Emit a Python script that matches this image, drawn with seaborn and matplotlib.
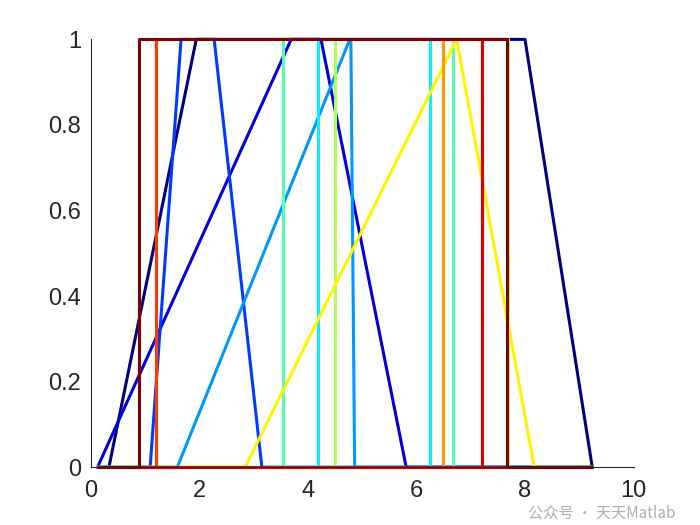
import numpy as np
import pandas as pd
import matplotlib
matplotlib.use("Agg")
import matplotlib.pyplot as plt
import seaborn as sns

# --- membership functions (trapezoid corners) ---
mf_names = [f"mf{i}" for i in range(1, 13)]
left_foot = [0.33, 0.12, 1.09, 1.59, 4.18, 3.53, 4.49, 2.84, 6.49, 1.19, 7.21, 0.89]
left_top = [1.94, 3.69, 1.66, 4.77, 4.18, 3.53, 4.49, 6.74, 6.49, 1.19, 7.21, 0.89]
right_top = [8.00, 4.24, 2.27, 4.79, 6.25, 6.68, 7.69, 6.74, 6.49, 1.19, 7.21, 7.66]
right_foot = [9.24, 5.81, 3.15, 4.86, 6.25, 6.68, 7.69, 8.17, 6.49, 1.19, 7.21, 7.66]

x_ticks = [0, 2, 4, 6, 8, 10]
y_ticks = [0, 0.2, 0.4, 0.6, 0.8, 1]
y_tick_labels = ["0", "0.2", "0.4", "0.6", "0.8", "1"]

# universe of discourse = from smallest foot to largest foot
x_min = min(left_foot)
x_max = max(right_foot)

rows = []
for name, a, b, c, d in zip(mf_names, left_foot, left_top, right_top, right_foot):
    xs = [x_min, a, b, c, d, x_max]
    ys = [0, 0, 1, 1, 0, 0]
    for xv, yv in zip(xs, ys):
        rows.append({"x": xv, "y": yv, "mf": name})
df = pd.DataFrame(rows)


def matlab_jet(t):
    # classic MATLAB jet: dark blue -> cyan -> yellow -> dark red
    r = np.clip(1.5 - abs(4 * t - 3), 0, 1)
    g = np.clip(1.5 - abs(4 * t - 2), 0, 1)
    b = np.clip(1.5 - abs(4 * t - 1), 0, 1)
    return (r, g, b)


colors = [matlab_jet(t) for t in np.linspace(0, 1, len(mf_names))]
palette = dict(zip(mf_names, colors))

sns.set_style("white")
plt.rcParams["font.family"] = ["Liberation Sans", "Noto Sans CJK SC", "DejaVu Sans"]

fig = plt.figure(figsize=(7, 5.25), dpi=100)
ax = fig.add_axes([0.13, 0.11, 0.775, 0.815])

sns.lineplot(data=df, x="x", y="y", hue="mf", hue_order=mf_names, palette=palette,
             estimator=None, sort=False, legend=False, linewidth=2.2,
             clip_on=False, ax=ax)

ax.set_xlim(0, 10)
ax.set_ylim(0, 1)
ax.set_xticks(x_ticks)
ax.set_yticks(y_ticks)
ax.set_yticklabels(y_tick_labels)
ax.set_xlabel("")
ax.set_ylabel("")
for side in ["top", "right"]:
    ax.spines[side].set_visible(False)
for side in ["left", "bottom"]:
    ax.spines[side].set_color("#262626")
    ax.spines[side].set_linewidth(0.8)
ax.tick_params(direction="in", length=4, width=0.8, color="#262626",
               labelsize=17, labelcolor="#262626")
ax.tick_params(axis="x", pad=9)
ax.tick_params(axis="y", pad=7)

# watermark from the source image, kept just under the tick labels
fig.text(0.965, 0.022, "公众号 · 天天Matlab", ha="right", va="center",
         fontsize=11, color="#9a9a9a", alpha=0.8,
         family=["Noto Sans CJK SC", "DejaVu Sans"])

fig.savefig("out.png", dpi=100)
